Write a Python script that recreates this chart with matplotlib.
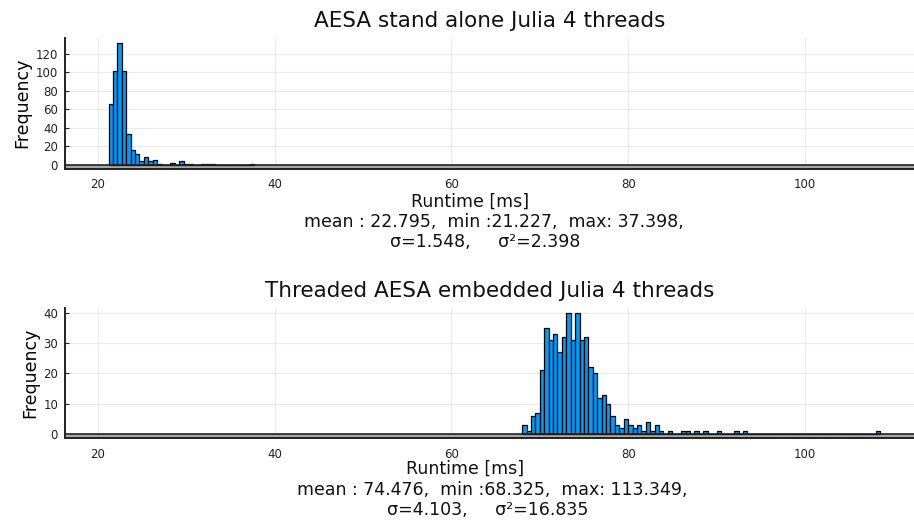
import matplotlib
matplotlib.use('Agg')
import matplotlib.pyplot as plt
import numpy as np

# ── DATA ─────────────────────────────────────────────────────────────────────
BIN_WIDTH = 0.5

# AESA stand alone, bins start at 21.2 ms
top_start  = 21.2
top_counts = [66, 102, 132, 102, 33, 16, 11, 4, 8, 4, 5, 1, 0, 0, 2, 0, 4, 1, 1,
              0, 0, 1, 1, 1, 0, 0, 0, 0, 0, 0, 0, 0, 1]
top_title  = 'AESA stand alone Julia 4 threads'
top_stats  = ['mean : 22.795,  min :21.227,  max: 37.398,', 'σ=1.548,     σ²=2.398']
top_yticks = [0, 20, 40, 60, 80, 100, 120]

# Threaded AESA embedded, bins start at 68.0 ms
bot_start  = 68.0
bot_counts = [3, 1, 6, 7, 21, 35, 31, 33, 27, 32, 40, 31, 40, 31, 32, 22, 20, 12,
              13, 10, 6, 3, 2, 5, 3, 2, 3, 1, 4, 1, 3, 1, 0, 1, 0, 0, 1, 1, 0, 1,
              0, 1, 0, 0, 1, 0, 0, 0, 1, 0, 1, 0, 0, 0, 0, 0, 0, 0, 0, 0, 0, 0,
              0, 0, 0, 0, 0, 0, 0, 0, 0, 0, 0, 0, 0, 0, 0, 0, 0, 0, 1]
bot_title  = 'Threaded AESA embedded Julia 4 threads'
bot_stats  = ['mean : 74.476,  min :68.325,  max: 113.349,', 'σ=4.103,     σ²=16.835']
bot_yticks = [0, 10, 20, 30, 40]

xticks = [20, 40, 60, 80, 100]

# ── THEME ────────────────────────────────────────────────────────────────────
BLUE  = '#009AF9'
DARK  = '#222222'
BAND  = '#a8a8a8'
GRID  = '#ebebeb'

plt.rcParams.update({
    'font.family': ['DejaVu Sans'],
    'xtick.direction': 'in', 'ytick.direction': 'in',
    'xtick.major.size': 3,   'ytick.major.size': 3,
    'xtick.major.pad': 7,    'ytick.major.pad': 5,
    'xtick.labelsize': 8.5,  'ytick.labelsize': 8.5,
    'xtick.color': DARK,     'ytick.color': DARK,
})

W, H = 914, 521
fig = plt.figure(figsize=(W / 100, H / 100), dpi=100)
ax_top = fig.add_axes([65 / W, 1 - 168.5 / H, (914 - 65) / W, 130.5 / H])
ax_bot = fig.add_axes([65 / W, 1 - 438 / H, (914 - 65) / W, 130 / H])


def px_text(x, y, s):
    fig.text(x / W, 1 - y / H, s, ha='center', va='center', fontsize=12.5,
             color='#111111')


def draw(ax, start, counts, title, yticks, ylim):
    counts = np.asarray(counts, dtype=float)
    edges = start + BIN_WIDTH * np.arange(len(counts) + 1)
    ax.hist(edges[:-1], bins=edges, weights=counts, color=BLUE,
            edgecolor='black', linewidth=0.9, zorder=3)

    ax.set_xlim(16.27, 112.35)
    ax.set_ylim(*ylim)
    ax.set_xticks(xticks)
    ax.set_yticks(yticks)
    ax.grid(True, color=GRID, linewidth=0.8, zorder=0)
    ax.set_axisbelow(True)

    for s in ('top', 'right'):
        ax.spines[s].set_visible(False)
    for s in ('left', 'bottom'):
        ax.spines[s].set_color(DARK)
        ax.spines[s].set_linewidth(1.4)

    # grey band below zero, closed by a dark zero line
    ax.axhspan(ylim[0], 0, color=BAND, lw=0, zorder=2)
    ax.axhline(0, color=DARK, lw=1.2, zorder=4)

    ax.set_title(title, fontsize=15.5, pad=8, color='#111111')
    ax.set_ylabel('Frequency', fontsize=12.5, labelpad=3)


draw(ax_top, top_start, top_counts, top_title, top_yticks, (-4.34, 137.4))
draw(ax_bot, bot_start, bot_counts, bot_title, bot_yticks, (-1.32, 41.65))

# x labels and summary lines under each panel
px_text(470, 202, 'Runtime [ms]')
px_text(493.5, 222, top_stats[0])
px_text(485, 242, top_stats[1])

px_text(465, 469, 'Runtime [ms]')
px_text(492.5, 490, bot_stats[0])
px_text(488, 510, bot_stats[1])

fig.savefig('out.png', dpi=100)
